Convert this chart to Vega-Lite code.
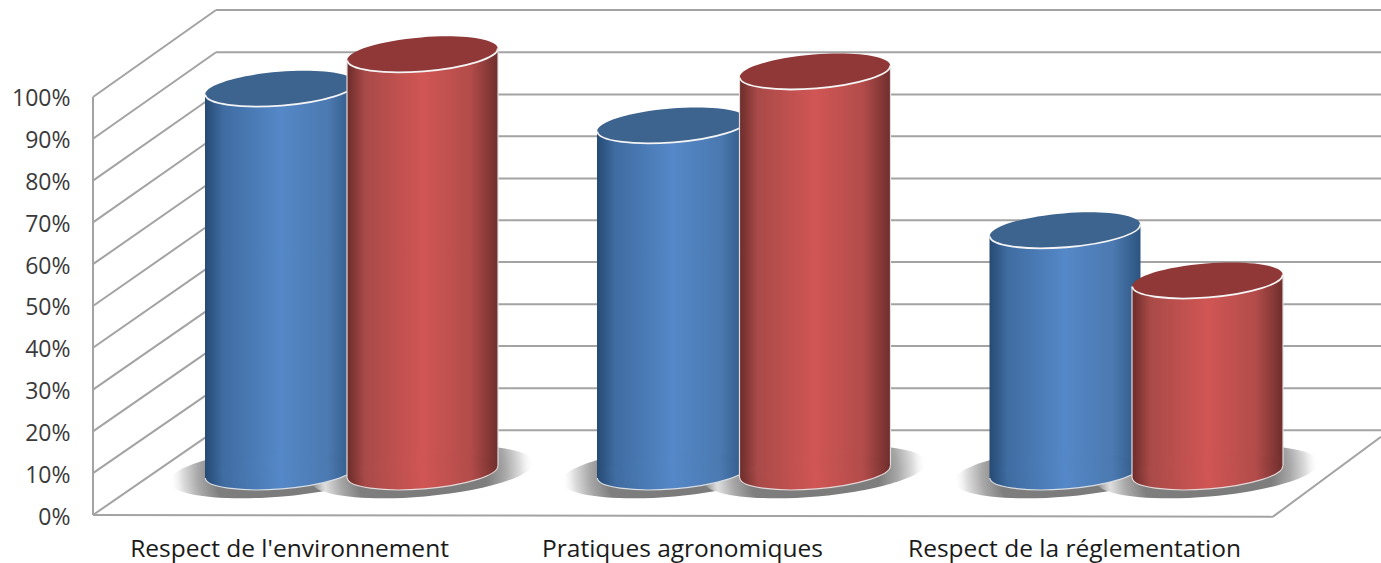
{
"$schema":"https://vega.github.io/schema/vega-lite/v6.json",
"width":1288,"height":515,"autosize":{"type":"none"},
"padding":{"left":93,"top":0,"right":0,"bottom":48},
"background":"white",
"config":{"view":{"stroke":null}},
"datasets":{
"wall":[
{"x":93,"y":0,"x2":93,"y2":100,"w":"f"},
{"x":93,"y":0,"x2":1273,"y2":-0.4,"w":"f"},
{"x":1273,"y":-0.4,"x2":1381,"y2":18.7,"w":"d"},
{"x":93,"y":0,"x2":216,"y2":20.3,"w":"d"},{"x":93,"y":10,"x2":216,"y2":30.3,"w":"d"},{"x":93,"y":20,"x2":216,"y2":40.4,"w":"d"},{"x":93,"y":30,"x2":216,"y2":50.4,"w":"d"},{"x":93,"y":40,"x2":216,"y2":60.5,"w":"d"},{"x":93,"y":50,"x2":216,"y2":70.5,"w":"d"},{"x":93,"y":60,"x2":216,"y2":80.5,"w":"d"},{"x":93,"y":70,"x2":216,"y2":90.6,"w":"d"},{"x":93,"y":80,"x2":216,"y2":100.6,"w":"d"},{"x":93,"y":90,"x2":216,"y2":110.7,"w":"d"},{"x":93,"y":100,"x2":216,"y2":120.8,"w":"d"},
{"x":216,"y":20.3,"x2":1381,"y2":20.3,"w":"b"},{"x":216,"y":30.3,"x2":1381,"y2":30.3,"w":"b"},{"x":216,"y":40.4,"x2":1381,"y2":40.4,"w":"b"},{"x":216,"y":50.4,"x2":1381,"y2":50.4,"w":"b"},{"x":216,"y":60.5,"x2":1381,"y2":60.5,"w":"b"},{"x":216,"y":70.5,"x2":1381,"y2":70.5,"w":"b"},{"x":216,"y":80.5,"x2":1381,"y2":80.5,"w":"b"},{"x":216,"y":90.6,"x2":1381,"y2":90.6,"w":"b"},{"x":216,"y":100.6,"x2":1381,"y2":100.6,"w":"b"},{"x":216,"y":110.7,"x2":1381,"y2":110.7,"w":"b"},{"x":216,"y":120.8,"x2":1381,"y2":120.8,"w":"b"}
],
"base":[
{"series":"A","cat":"Respect de l'environnement","x":280.5,"y":10.3},
{"series":"B","cat":"Respect de l'environnement","x":422.5,"y":10.3},
{"series":"A","cat":"Pratiques agronomiques","x":672.5,"y":10.3},
{"series":"B","cat":"Pratiques agronomiques","x":815,"y":10.3},
{"series":"A","cat":"Respect de la réglementation","x":1065,"y":10.3},
{"series":"B","cat":"Respect de la réglementation","x":1207.5,"y":10.3}
],
"top":[
{"series":"A","cat":"Respect de l'environnement","x":280.5,"y":102.0},
{"series":"B","cat":"Respect de l'environnement","x":422.5,"y":110.2},
{"series":"A","cat":"Pratiques agronomiques","x":672.5,"y":93.2},
{"series":"B","cat":"Pratiques agronomiques","x":815,"y":106.1},
{"series":"A","cat":"Respect de la réglementation","x":1065,"y":68.1},
{"series":"B","cat":"Respect de la réglementation","x":1207.5,"y":56.1}
],
"body":[
{"series":"A","id":"A1","x":205,"y":100.5,"y2":8.8},{"series":"A","id":"A1","x":356,"y":103.5,"y2":11.8},
{"series":"B","id":"B1","x":347,"y":108.7,"y2":8.8},{"series":"B","id":"B1","x":498,"y":111.7,"y2":11.8},
{"series":"A","id":"A2","x":597,"y":91.7,"y2":8.8},{"series":"A","id":"A2","x":748,"y":94.7,"y2":11.8},
{"series":"B","id":"B2","x":739.5,"y":104.6,"y2":8.8},{"series":"B","id":"B2","x":890.5,"y":107.6,"y2":11.8},
{"series":"A","id":"A3","x":989.5,"y":66.6,"y2":8.8},{"series":"A","id":"A3","x":1140.5,"y":69.6,"y2":11.8},
{"series":"B","id":"B3","x":1132,"y":54.6,"y2":8.8},{"series":"B","id":"B3","x":1283,"y":57.6,"y2":11.8}
]
},
"encoding":{
"x":{"field":"x","type":"quantitative","title":null,"scale":{"domain":[93,1381],"nice":false,"zero":false},
"axis":{"values":[289,682,1074],"labelExpr":"datum.value==289?\"Respect de l'environnement\":datum.value==682?'Pratiques agronomiques':'Respect de la réglementation'","domain":false,"ticks":false,"grid":false,"labelFont":"Open Sans","labelFontSize":24.5,"labelLimit":600,"labelColor":"#1a1a1a","labelPadding":22,"labelOverlap":false,"labelFlush":false}},
"y":{"field":"y","type":"quantitative","title":null,"scale":{"domain":[0,123.2],"nice":false,"zero":false},
"axis":{"values":[0,10,20,30,40,50,60,70,80,90,100],"labelExpr":"datum.value+'%'","domain":false,"ticks":false,"grid":false,"labelFont":"Open Sans","labelFontSize":23,"labelColor":"#3a3a3a","labelPadding":23,"labelOffset":2,"labelOverlap":false,"labelFlush":false}}
},
"layer":[
{"data":{"name":"wall"},"mark":{"type":"rule","color":"#a3a3a3","strokeWidth":2},"encoding":{"x2":{"field":"x2"},"y2":{"field":"y2"}}},
{"data":{"name":"base"},"mark":{"type":"point","filled":true,"opacity":1,"strokeWidth":0,"size":50000,"angle":-5,"shape":"M-1,0 C-1,0.12 -0.5523,0.22 0,0.22 C0.5523,0.22 1,0.12 1,0 C1,-0.12 0.5523,-0.22 0,-0.22 C-0.5523,-0.22 -1,-0.12 -1,0 Z",
"fill":{"gradient":"radial","stops":[{"offset":0,"color":"#7a7a7a"},{"offset":0.58,"color":"#7e7e7e"},{"offset":0.74,"color":"#a8a8a8"},{"offset":0.88,"color":"#dedede"},{"offset":1,"color":"rgba(255,255,255,0)"}]}}},
{"data":{"name":"body"},"transform":[{"filter":"datum.series=='A'"}],"mark":{"type":"area","opacity":1,"fill":{"gradient":"linear","x1":0,"x2":1,"y1":0,"y2":0,"stops":[{"offset":0,"color":"#264a73"},{"offset":0.12,"color":"#3f6ca1"},{"offset":0.5,"color":"#5588c8"},{"offset":0.82,"color":"#4b79b0"},{"offset":1,"color":"#2c5480"}]}},"encoding":{"y2":{"field":"y2"},"detail":{"field":"id"}}},
{"data":{"name":"base"},"transform":[{"filter":"datum.series=='A'"}],"mark":{"type":"point","filled":true,"opacity":1,"strokeWidth":0,"size":22801,"angle":-4.6,"shape":"M-1,0 C-1,0.124 -0.5523,0.225 0,0.225 C0.5523,0.225 1,0.124 1,0 C1,-0.124 0.5523,-0.225 0,-0.225 C-0.5523,-0.225 -1,-0.124 -1,0 Z","fill":{"gradient":"linear","x1":0,"x2":1,"y1":0,"y2":0,"stops":[{"offset":0,"color":"#264a73"},{"offset":0.12,"color":"#3f6ca1"},{"offset":0.5,"color":"#5588c8"},{"offset":0.82,"color":"#4b79b0"},{"offset":1,"color":"#2c5480"}]}}},
{"data":{"name":"base"},"transform":[{"filter":"datum.series=='A'"}],"mark":{"type":"point","filled":false,"opacity":1,"fill":null,"stroke":"#d8dde4","strokeWidth":1.2,"size":22801,"angle":-4.6,"shape":"M-1,0 C-1,0.124 -0.5523,0.225 0,0.225 C0.5523,0.225 1,0.124 1,0"}},
{"data":{"name":"top"},"transform":[{"filter":"datum.series=='A'"}],"mark":{"type":"point","filled":true,"opacity":1,"fill":"#3d638f","strokeWidth":0,"size":22801,"angle":-4.6,"shape":"M-1,0 C-1,0.124 -0.5523,0.225 0,0.225 C0.5523,0.225 1,0.124 1,0 C1,-0.124 0.5523,-0.225 0,-0.225 C-0.5523,-0.225 -1,-0.124 -1,0 Z"}},
{"data":{"name":"top"},"transform":[{"filter":"datum.series=='A'"}],"mark":{"type":"point","filled":false,"opacity":1,"fill":null,"stroke":"#f4f4f4","strokeWidth":1.8,"size":22801,"angle":-4.6,"shape":"M-1,0 C-1,0.124 -0.5523,0.225 0,0.225 C0.5523,0.225 1,0.124 1,0"}},
{"data":{"name":"body"},"transform":[{"filter":"datum.series=='B'"}],"mark":{"type":"area","opacity":1,"fill":{"gradient":"linear","x1":0,"x2":1,"y1":0,"y2":0,"stops":[{"offset":0,"color":"#6b2c2a"},{"offset":0.12,"color":"#a94a48"},{"offset":0.5,"color":"#d05654"},{"offset":0.82,"color":"#b24c4a"},{"offset":1,"color":"#6e2e2c"}]}},"encoding":{"y2":{"field":"y2"},"detail":{"field":"id"}}},
{"data":{"name":"base"},"transform":[{"filter":"datum.series=='B'"}],"mark":{"type":"point","filled":true,"opacity":1,"strokeWidth":0,"size":22801,"angle":-4.6,"shape":"M-1,0 C-1,0.124 -0.5523,0.225 0,0.225 C0.5523,0.225 1,0.124 1,0 C1,-0.124 0.5523,-0.225 0,-0.225 C-0.5523,-0.225 -1,-0.124 -1,0 Z","fill":{"gradient":"linear","x1":0,"x2":1,"y1":0,"y2":0,"stops":[{"offset":0,"color":"#6b2c2a"},{"offset":0.12,"color":"#a94a48"},{"offset":0.5,"color":"#d05654"},{"offset":0.82,"color":"#b24c4a"},{"offset":1,"color":"#6e2e2c"}]}}},
{"data":{"name":"base"},"transform":[{"filter":"datum.series=='B'"}],"mark":{"type":"point","filled":false,"opacity":1,"fill":null,"stroke":"#e4d8d8","strokeWidth":1.2,"size":22801,"angle":-4.6,"shape":"M-1,0 C-1,0.124 -0.5523,0.225 0,0.225 C0.5523,0.225 1,0.124 1,0"}},
{"data":{"name":"body"},"transform":[{"filter":"datum.series=='B'"}],"mark":{"type":"rule","color":"#e2dcdc","strokeWidth":1.2},"encoding":{"y2":{"field":"y2"}}},
{"data":{"name":"top"},"transform":[{"filter":"datum.series=='B'"}],"mark":{"type":"point","filled":true,"opacity":1,"fill":"#8f3837","strokeWidth":0,"size":22801,"angle":-4.6,"shape":"M-1,0 C-1,0.124 -0.5523,0.225 0,0.225 C0.5523,0.225 1,0.124 1,0 C1,-0.124 0.5523,-0.225 0,-0.225 C-0.5523,-0.225 -1,-0.124 -1,0 Z"}},
{"data":{"name":"top"},"transform":[{"filter":"datum.series=='B'"}],"mark":{"type":"point","filled":false,"opacity":1,"fill":null,"stroke":"#f4f4f4","strokeWidth":1.8,"size":22801,"angle":-4.6,"shape":"M-1,0 C-1,0.124 -0.5523,0.225 0,0.225 C0.5523,0.225 1,0.124 1,0"}}
]
}
